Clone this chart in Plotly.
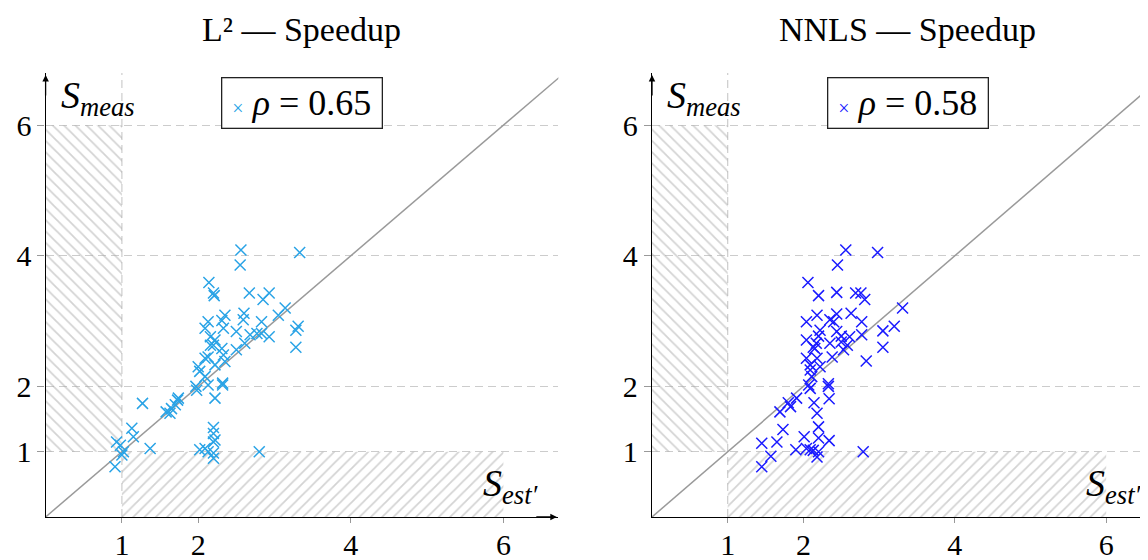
import plotly.graph_objects as go

# ---------------- data ----------------
l2_est = [2.56, 3.33, 2.55, 2.14, 2.20, 2.21, 2.67, 2.93, 2.85, 3.14, 3.05, 2.35, 2.60, 2.59, 2.31,
          2.13, 2.83, 3.31, 3.28, 2.09, 2.33, 2.50, 2.77, 2.68, 2.83, 2.93, 2.16, 2.22, 2.20, 2.16,
          2.31, 2.61, 3.28, 2.50, 2.33, 2.13, 2.09, 2.35, 2.22, 2.00, 2.02, 2.09, 2.13, 2.32, 2.32,
          1.97, 1.98, 2.22, 1.27, 1.74, 1.73, 1.70, 1.65, 1.58, 1.63, 1.13, 1.15, 0.93, 0.98, 1.02,
          1.00, 0.91, 1.37, 2.20, 2.20, 2.22, 2.20, 2.09, 2.02, 2.13, 2.20, 2.20, 2.80]
l2_meas = [4.09, 4.05, 3.86, 3.59, 3.43, 3.39, 3.43, 3.43, 3.33, 3.20, 3.09, 3.09, 3.12, 3.02, 3.01,
           2.99, 2.99, 2.92, 2.86, 2.89, 2.89, 2.84, 2.81, 2.79, 2.81, 2.76, 2.76, 2.71, 2.63, 2.63,
           2.58, 2.66, 2.60, 2.56, 2.48, 2.45, 2.43, 2.38, 2.33, 2.30, 2.23, 2.15, 2.02, 2.05, 2.02,
           2.00, 1.94, 1.82, 1.74, 1.82, 1.79, 1.72, 1.66, 1.61, 1.59, 1.36, 1.23, 1.15, 1.10, 1.00,
           0.95, 0.77, 1.05, 1.37, 1.28, 1.18, 1.15, 1.05, 1.03, 1.00, 0.98, 0.90, 1.00]

nnls_est = [2.56, 2.98, 2.45, 2.06, 2.20, 2.44, 2.69, 2.76, 2.81, 3.31, 2.18, 2.44, 2.63, 2.04, 2.35,
            2.40, 2.77, 3.20, 3.05, 2.22, 2.20, 2.44, 2.50, 2.61, 2.77, 2.04, 2.35, 2.17, 2.15, 2.50,
            2.58, 2.13, 3.05, 2.53, 2.38, 2.04, 2.18, 2.83, 2.09, 2.22, 2.09, 2.11, 2.07, 2.09, 2.33,
            2.33, 2.34, 1.91, 1.80, 1.83, 1.69, 2.14, 2.18, 1.73, 2.20, 2.01, 2.20, 2.34, 1.65, 1.45,
            1.90, 2.04, 2.09, 2.13, 2.20, 2.18, 1.57, 1.45, 2.79]
nnls_meas = [4.09, 4.05, 3.86, 3.59, 3.39, 3.44, 3.43, 3.43, 3.33, 3.20, 3.09, 3.11, 3.12, 2.99, 3.02,
             2.99, 2.99, 2.92, 2.85, 2.86, 2.77, 2.84, 2.77, 2.76, 2.79, 2.71, 2.66, 2.66, 2.58, 2.68,
             2.63, 2.60, 2.60, 2.56, 2.45, 2.43, 2.43, 2.39, 2.33, 2.30, 2.25, 2.15, 2.02, 1.97, 2.04,
             2.00, 1.81, 1.82, 1.75, 1.69, 1.61, 1.75, 1.59, 1.34, 1.38, 1.23, 1.21, 1.17, 1.15, 1.13,
             1.03, 1.05, 1.03, 1.02, 1.00, 0.92, 0.93, 0.77, 1.00]

titles = ["L² — Speedup", "NNLS — Speedup"]
rho_labels = ["0.65", "0.58"]
tick_vals = [1, 2, 4, 6]
diag = [0, 7]
# hatched regions (x, y polygons)
vstrip_x = [0, 1, 1, 0, 0]
vstrip_y = [1, 1, 6, 6, 1]
hstrip_x = [1, 6, 6, 1, 1]
hstrip_y = [0, 0, 1, 1, 0]

colors = ["#29a3e6", "#1a1aff"]
FONT = "Liberation Serif"

# the page body has an 8px margin: size the figure so it exactly fills the window
OFF = 8
W, H = 1148 - OFF, 560 - OFF


def px(x):
    return (x - OFF) / W


def py(y):
    return 1 - (y - OFF) / H


fig = go.Figure()

panels = [
    dict(est=l2_est, meas=l2_meas, xa="x", ya="y"),
    dict(est=nnls_est, meas=nnls_meas, xa="x2", ya="y2"),
]

for i, p in enumerate(panels):
    xa, ya = p["xa"], p["ya"]
    fig.add_trace(go.Scatter(x=vstrip_x, y=vstrip_y, xaxis=xa, yaxis=ya, mode="none", fill="toself",
                             fillcolor="rgba(0,0,0,0)",
                             fillpattern=dict(shape="\\", fgcolor="#a8a8a8", bgcolor="rgba(0,0,0,0)",
                                              size=8, solidity=0.22, fillmode="overlay"),
                             showlegend=False, hoverinfo="skip"))
    fig.add_trace(go.Scatter(x=hstrip_x, y=hstrip_y, xaxis=xa, yaxis=ya, mode="none", fill="toself",
                             fillcolor="rgba(0,0,0,0)",
                             fillpattern=dict(shape="/", fgcolor="#a8a8a8", bgcolor="rgba(0,0,0,0)",
                                              size=8, solidity=0.22, fillmode="overlay"),
                             showlegend=False, hoverinfo="skip"))
    fig.add_trace(go.Scatter(x=diag, y=diag, xaxis=xa, yaxis=ya, mode="lines",
                             line=dict(color="#9a9a9a", width=1.5), showlegend=False, hoverinfo="skip"))
    fig.add_trace(go.Scatter(x=p["est"], y=p["meas"], xaxis=xa, yaxis=ya, mode="markers",
                             marker=dict(symbol="x-thin", size=11, color=colors[i],
                                         line=dict(color=colors[i], width=1.5)),
                             showlegend=False))

# geometry (reference pixels)
x0_l, ppu_l = 45.6, 76.3
x0_r, ppu_r = 652.0, 75.7
y0_px, ppu_y = 517.0, 65.3
yr = [0, 6.8]
ytop_px = y0_px - yr[1] * ppu_y
xr_l = [0, 6.72]
xr_r = [0, (1148 - x0_r) / ppu_r]

common_x = dict(tickvals=tick_vals, showgrid=False, zeroline=False, showline=True,
                linecolor="black", linewidth=1.3, ticks="outside", ticklen=5, tickwidth=1.2,
                tickcolor="#999999", tickfont=dict(family=FONT, size=30, color="black"),
                ticklabelstandoff=-4, automargin=False, fixedrange=True)
common_y = dict(range=yr, tickvals=tick_vals, showgrid=True, gridcolor="#cccccc", gridwidth=1.2,
                griddash="8px,5px", zeroline=False, showline=True, linecolor="black", linewidth=1.3,
                ticks="outside", ticklen=7, tickwidth=1.2, tickcolor="#999999",
                tickfont=dict(family=FONT, size=30, color="black"), automargin=False,
                domain=[py(y0_px), py(ytop_px)], fixedrange=True)

fig.update_layout(
    width=W, height=H, margin=dict(l=0, r=0, t=0, b=0),
    paper_bgcolor="white", plot_bgcolor="white",
    xaxis=dict(range=xr_l, domain=[px(x0_l), px(x0_l + xr_l[1] * ppu_l)], anchor="y", **common_x),
    yaxis=dict(anchor="x", **common_y),
    xaxis2=dict(range=xr_r, domain=[px(x0_r), 1.0], anchor="y2", **common_x),
    yaxis2=dict(anchor="x2", **common_y),
)

shapes = []
annotations = []
for i, (xa, ya) in enumerate([("x", "y"), ("x2", "y2")]):
    shapes.append(dict(type="line", xref=xa, yref=ya + " domain", x0=1, x1=1, y0=0, y1=1,
                       line=dict(color="#cccccc", width=1.2, dash="8px,5px"), layer="below"))
    # axis arrows
    annotations.append(dict(xref=xa, yref=ya, x=0, y=6.77, ax=0, ay=22, text="", showarrow=True,
                            arrowhead=2, arrowsize=1, arrowwidth=1.3, arrowcolor="black", standoff=0))
    # axis labels
    annotations.append(dict(xref=xa, yref=ya, x=0.17, y=6.42, xanchor="left", yanchor="middle",
                            text="<i>S</i><sub><i>meas</i></sub>", showarrow=False,
                            font=dict(family=FONT, size=38, color="black")))
    annotations.append(dict(xref=xa, yref=ya, x=5.71, y=0.48, xanchor="left", yanchor="middle",
                            text="<i>S</i><sub><i>est′</i></sub>", showarrow=False,
                            font=dict(family=FONT, size=38, color="black")))

annotations.append(dict(xref="x", yref="y", x=6.7, y=0, ax=-22, ay=0, text="", showarrow=True,
                        arrowhead=2, arrowsize=1, arrowwidth=1.3, arrowcolor="black", standoff=0))

# titles and legend boxes
centers = [301.5, 907.5]
for i in range(2):
    annotations.append(dict(xref="paper", yref="paper", x=px(centers[i]), y=py(29),
                            xanchor="center", yanchor="middle", text=titles[i], showarrow=False,
                            font=dict(family=FONT, size=34, color="black")))
    annotations.append(dict(xref="paper", yref="paper", x=px(centers[i]), y=py(102.5),
                            xanchor="center", yanchor="middle",
                            text=f"<span style='color:{colors[i]};font-size:20px'>×</span> <i>ρ</i> = {rho_labels[i]}",
                            showarrow=False, width=157, height=47, borderpad=1,
                            bordercolor="#222222", borderwidth=1.3, bgcolor="white",
                            font=dict(family=FONT, size=36, color="black")))

fig.update_layout(shapes=shapes, annotations=annotations)
fig.write_html("out.html")
